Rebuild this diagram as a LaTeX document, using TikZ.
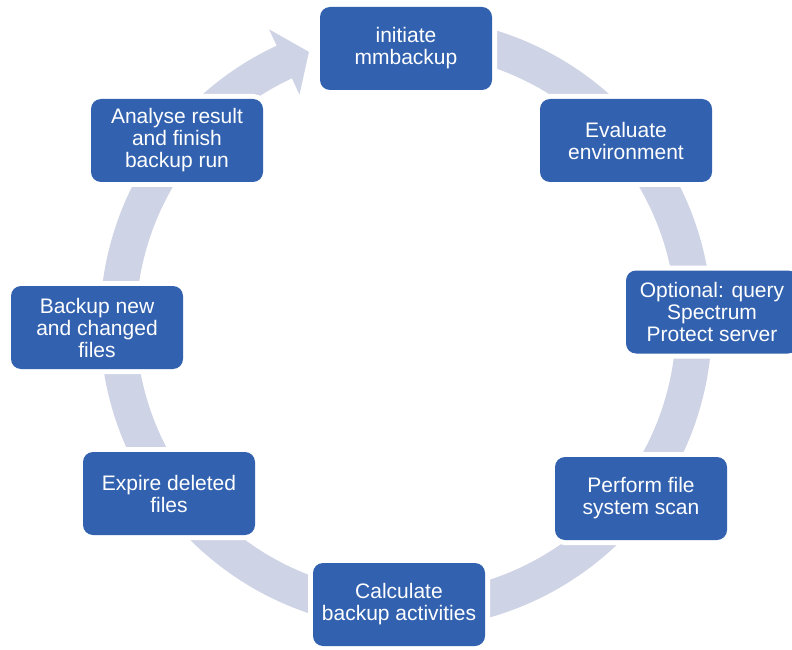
\documentclass[tikz,border=0pt]{standalone}
\usepackage{fontspec}
\setmainfont{Liberation Sans}
\usetikzlibrary{calc}
\definecolor{boxblue}{RGB}{50,98,175}
\definecolor{ringgrey}{RGB}{206,211,229}
\tikzset
{
    cyclenode/.style = {rectangle, rounded corners=10pt, fill=boxblue, text=white, align=center,
                        minimum width=172pt, minimum height=83pt, inner sep=2pt,
                        font=\fontsize{21}{22}\selectfont,
                        preaction={draw=white, line width=10pt}},
    ring/.style      = {fill=ringgrey}
}

\begin{document}
\begin{tikzpicture}[x=1pt, y=1pt]
    \useasboundingbox (0,0) rectangle (792,649);
    \coordinate (ctr) at (406,326);

    % ring with arrow head
    \fill [ring] ($(ctr)+(90:306)$) arc [start angle=90, end angle=-245, radius=306]
        -- ($(ctr)+(-245:324)$) -- ($(ctr)+(-250.3:288)$) -- ($(ctr)+(-245:252)$)
        -- ($(ctr)+(-245:270)$) arc [start angle=-245, end angle=90, radius=270] -- cycle;

    \node [cyclenode] (init)    at (406,600.5) {initiate\\mmbackup};
    \node [cyclenode] (eval)    at (626,508.5) {Evaluate\\environment};
    \node [cyclenode] (query)   at (712,337)   {Optional: query\\Spectrum\\Protect server};
    \node [cyclenode] (scan)    at (641,150.5) {Perform file\\system scan};
    \node [cyclenode] (calc)    at (399,44.5)  {Calculate\\backup activities};
    \node [cyclenode] (expire)  at (169,155.5) {Expire deleted\\files};
    \node [cyclenode] (changed) at (97,321.5)  {Backup new\\and changed\\files};
    \node [cyclenode] (finish)  at (177,508.5) {Analyse result\\and finish\\backup run};
\end{tikzpicture}
\end{document}
